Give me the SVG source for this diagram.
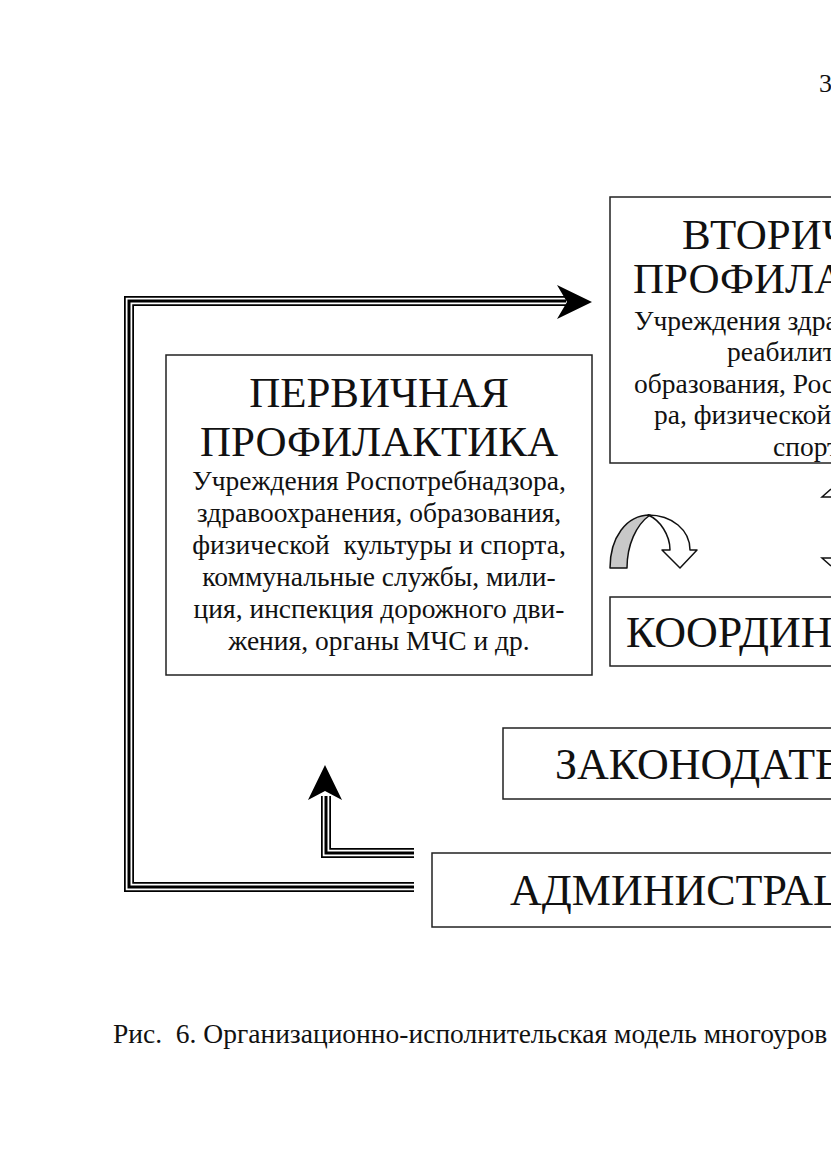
<svg xmlns="http://www.w3.org/2000/svg" width="831" height="1174" viewBox="0 0 831 1174">
<style>
.box{fill:#fff;stroke:#222;stroke-width:1.5}
.t{font-family:"Liberation Serif","Times New Roman",serif;fill:#111}
.title{font-size:43px}
.big{font-size:44px}
.body{font-size:27.5px}
.c{text-anchor:middle}
.l1{fill:none;stroke:#000;stroke-width:10;stroke-linejoin:miter}
.l2{fill:none;stroke:#fff;stroke-width:6.5;stroke-linejoin:miter}
.l3{fill:none;stroke:#000;stroke-width:3;stroke-linejoin:miter}
.thin{fill:none;stroke:#111;stroke-width:1.5}
</style>
<defs>
<clipPath id="clipV"><rect x="610" y="197" width="300" height="266"/></clipPath>
</defs>
<rect width="831" height="1174" fill="#fff"/>
<text class="t" x="819" y="92" font-size="26">3</text>

<g id="node-secondary">
<rect class="box" x="610" y="197" width="300" height="266"/>
<g clip-path="url(#clipV)">
<text class="t title" x="682" y="249">ВТОРИЧ</text>
<text class="t title" x="633" y="293">ПРОФИЛА</text>
<text class="t body" x="634" y="330">Учреждения здра</text>
<text class="t body" x="727" y="361">реабилит</text>
<text class="t body" x="634" y="393">образования, Рос</text>
<text class="t body" x="654" y="424">ра, физической</text>
<text class="t body" x="773" y="456">спорт</text>
</g>
</g>

<g id="node-primary">
<rect class="box" x="166" y="355" width="426" height="320"/>
<text class="t title c" x="379" y="407">ПЕРВИЧНАЯ</text>
<text class="t title c" x="379" y="456">ПРОФИЛАКТИКА</text>
<text class="t body c" x="379" y="490">Учреждения Роспотребнадзора,</text>
<text class="t body c" x="379" y="522">здравоохранения, образования,</text>
<text class="t body c" x="379" y="554" xml:space="preserve">физической  культуры и спорта,</text>
<text class="t body c" x="379" y="586">коммунальные службы, мили-</text>
<text class="t body c" x="379" y="618">ция, инспекция дорожного дви-</text>
<text class="t body c" x="379" y="650">жения, органы МЧС и др.</text>
</g>

<g id="node-coord">
<rect class="box" x="610" y="597" width="300" height="69"/>
<text class="t big" x="626" y="647">КООРДИН</text>
</g>

<g id="node-law">
<rect class="box" x="503" y="728" width="400" height="71"/>
<text class="t big" x="555" y="779">ЗАКОНОДАТЕ</text>
</g>

<g id="node-admin">
<rect class="box" x="432" y="853" width="450" height="74"/>
<text class="t big" x="510" y="905">АДМИНИСТРАЦ</text>
</g>

<g id="connectors">
<path class="l1" d="M414,887 H129 V301 H566"/>
<path class="l2" d="M414,887 H129 V301 H566"/>
<path class="l3" d="M414,887 H129 V301 H566"/>
<polygon points="592,302 557,285 567,302 557,319" fill="#000"/>

<path class="l1" d="M414,853 H326 V796"/>
<path class="l2" d="M414,853 H326 V796"/>
<path class="l3" d="M414,853 H326 V796"/>
<polygon points="325,765 342,800 325,791 308,800" fill="#000"/>

<g id="curved-arrow">
<path d="M610,568 C610,538 626,515 650,515 C636,525 627,545 627,568 Z" fill="#c8c8c8" stroke="#111" stroke-width="1.5" stroke-linejoin="round"/>
<path d="M648,515 C672,515 690,530 690,550 L697,550 L680,568 L662,550 L670,550 C670,535 660,520 648,515 Z" fill="#fff" stroke="#111" stroke-width="1.5" stroke-linejoin="round"/>
</g>

<path class="thin" d="M831,489 L822,497 L831,497"/>
<path class="thin" d="M831,558 L822,558 L831,566"/>
</g>

<text class="t" x="113" y="1043" font-size="27.5" xml:space="preserve">Рис.  6. Организационно-исполнительская модель многоуров</text>
</svg>
